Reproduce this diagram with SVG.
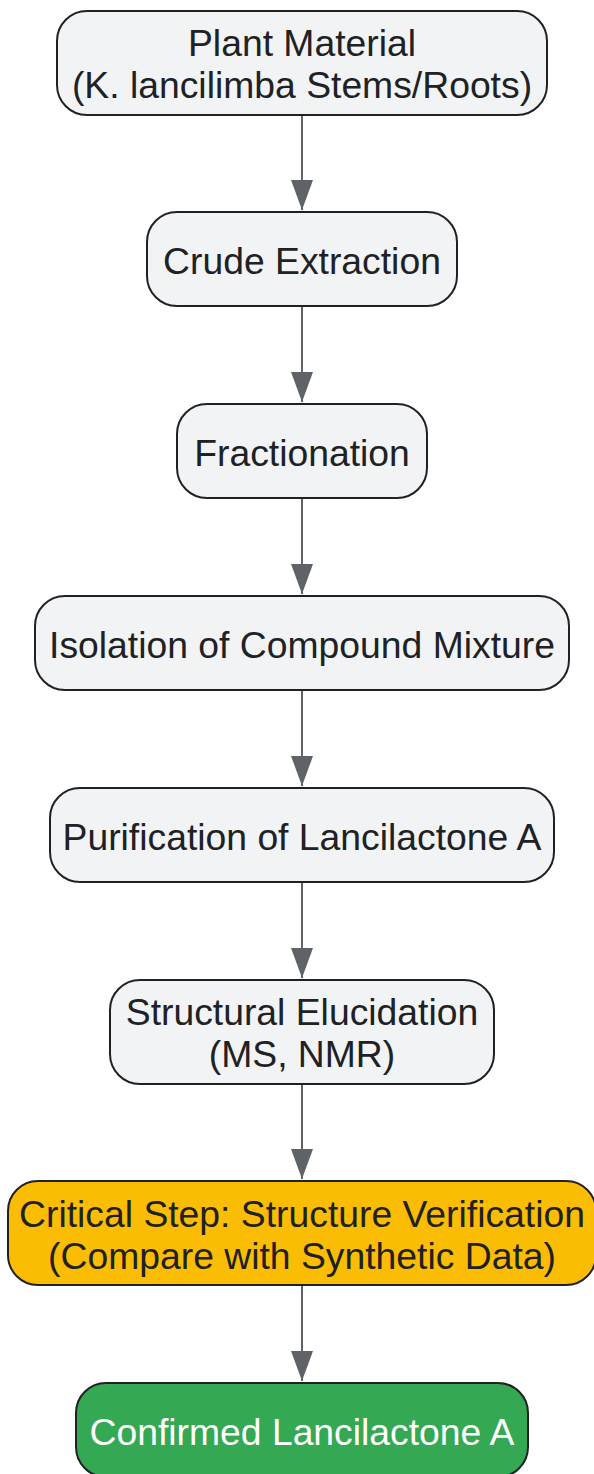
<svg xmlns="http://www.w3.org/2000/svg" width="594" height="1474" viewBox="0 0 594 1474">
  <style>
    .box { fill: #f1f3f4; stroke: #202124; stroke-width: 2; }
    .crit { fill: #fbbc04; stroke: #202124; stroke-width: 2; }
    .done { fill: #34a853; stroke: #202124; stroke-width: 2; }
    .lbl { font-family: "Liberation Sans", Arial, sans-serif; font-size: 37.3px; fill: #202124; text-anchor: middle; }
    .lbl-w { fill: #ffffff; }
    .edge { stroke: #5f6368; stroke-width: 2; fill: none; marker-end: url(#arrow); }
  </style>
  <defs>
    <marker id="arrow" viewBox="0 0 30 22" refX="30" refY="11" markerWidth="30" markerHeight="22" markerUnits="userSpaceOnUse" orient="auto">
      <path d="M0,0 L30,11 L0,22 z" fill="#5f6368"/>
    </marker>
  </defs>
  <g id="connectors">
    <path class="edge" d="M302,115 L302,210"/>
    <path class="edge" d="M302,307 L302,402"/>
    <path class="edge" d="M302,499 L302,594"/>
    <path class="edge" d="M302,691 L302,786"/>
    <path class="edge" d="M302,883 L302,978"/>
    <path class="edge" d="M302,1084 L302,1179"/>
    <path class="edge" d="M302,1285 L302,1381"/>
  </g>
  <g id="n1">
    <rect class="box" x="57" y="11" width="490" height="104" rx="30" ry="30"/>
    <text class="lbl" x="302" y="56">Plant Material</text>
    <text class="lbl" x="302" y="98">(K. lancilimba Stems/Roots)</text>
  </g>
  <g id="n2">
    <rect class="box" x="147" y="212" width="310" height="94" rx="30" ry="30"/>
    <text class="lbl" x="302" y="274">Crude Extraction</text>
  </g>
  <g id="n3">
    <rect class="box" x="177" y="404" width="250" height="94" rx="30" ry="30"/>
    <text class="lbl" x="302" y="466">Fractionation</text>
  </g>
  <g id="n4">
    <rect class="box" x="35" y="596" width="534" height="94" rx="30" ry="30"/>
    <text class="lbl" x="302" y="658">Isolation of Compound Mixture</text>
  </g>
  <g id="n5">
    <rect class="box" x="50" y="788" width="504" height="94" rx="30" ry="30"/>
    <text class="lbl" x="302" y="850">Purification of Lancilactone A</text>
  </g>
  <g id="n6">
    <rect class="box" x="110" y="980" width="384" height="104" rx="30" ry="30"/>
    <text class="lbl" x="302" y="1025">Structural Elucidation</text>
    <text class="lbl" x="302" y="1067">(MS, NMR)</text>
  </g>
  <g id="n7">
    <rect class="crit" x="8" y="1181" width="588" height="104" rx="30" ry="30"/>
    <text class="lbl" x="302" y="1227">Critical Step: Structure Verification</text>
    <text class="lbl" x="302" y="1269">(Compare with Synthetic Data)</text>
  </g>
  <g id="n8">
    <rect class="done" x="76" y="1383" width="452" height="94" rx="30" ry="30"/>
    <text class="lbl lbl-w" x="302" y="1445">Confirmed Lancilactone A</text>
  </g>
</svg>
